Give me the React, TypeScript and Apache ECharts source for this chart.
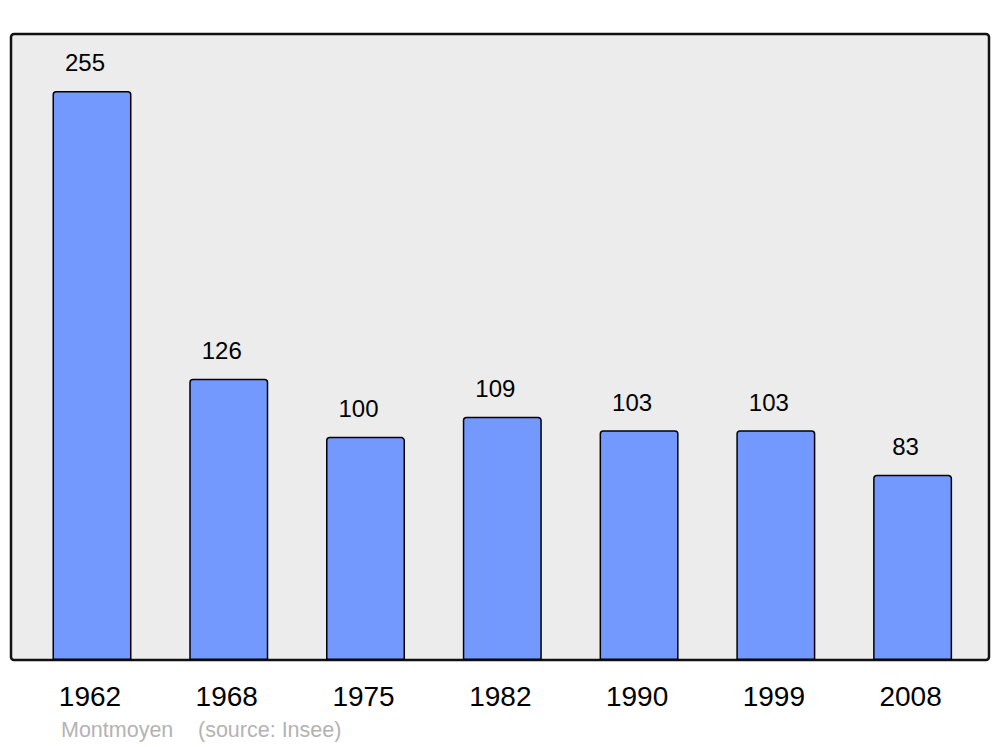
import React, { useEffect, useRef } from "react";
import * as echarts from "echarts";

const years = ["1962", "1968", "1975", "1982", "1990", "1999", "2008"];
const population = [255, 126, 100, 109, 103, 103, 83];
const townName = "Montmoyen";
const sourceText = "(source: Insee)";

export default function App() {
  const ref = useRef<HTMLDivElement>(null);
  useEffect(() => {
    if (!ref.current) return;
    const chart = echarts.init(ref.current, null, { renderer: "svg" });
    const font = "'Liberation Sans', Arial, sans-serif";
    chart.setOption({
      animation: false,
      backgroundColor: "#ffffff",
      grid: { left: 23.6, right: 19, top: 34, bottom: 87, containLabel: false },
      xAxis: {
        type: "category",
        data: years,
        axisLine: { show: false },
        axisTick: { show: false },
        axisLabel: {
          fontFamily: font,
          fontSize: 28,
          color: "#000",
          margin: 22,
          padding: [0, 4, 0, 0],
        },
      },
      yAxis: {
        type: "value",
        min: 0,
        max: 280.5,
        show: false,
        splitLine: { show: false },
      },
      graphic: [
        {
          type: "rect",
          z: -10,
          shape: { x: 11, y: 34, width: 978, height: 626, r: 3 },
          style: { fill: "#ececec", stroke: "#111", lineWidth: 2.5 },
          silent: true,
        },
        {
          type: "text",
          x: 61,
          y: 730,
          style: {
            text: townName,
            fill: "#b3b3b3",
            font: `21.5px ${font}`,
            textVerticalAlign: "middle",
          },
        },
        {
          type: "text",
          x: 198,
          y: 730,
          style: {
            text: sourceText,
            fill: "#b3b3b3",
            font: `21.5px ${font}`,
            textVerticalAlign: "middle",
          },
        },
      ],
      series: [
        {
          type: "bar",
          data: population,
          barWidth: 79,
          itemStyle: {
            color: "#7399ff",
            borderColor: "#000",
            borderWidth: 1.5,
            borderRadius: [3, 3, 0, 0],
          },
          label: {
            show: true,
            position: "top",
            distance: 16,
            offset: [-7, 0],
            fontFamily: font,
            fontSize: 24,
            color: "#000",
          },
        },
      ],
    });
    return () => chart.dispose();
  }, []);
  return (
    <div
      ref={ref}
      style={{ position: "fixed", left: 0, top: 0, width: 1000, height: 747 }}
    />
  );
}
